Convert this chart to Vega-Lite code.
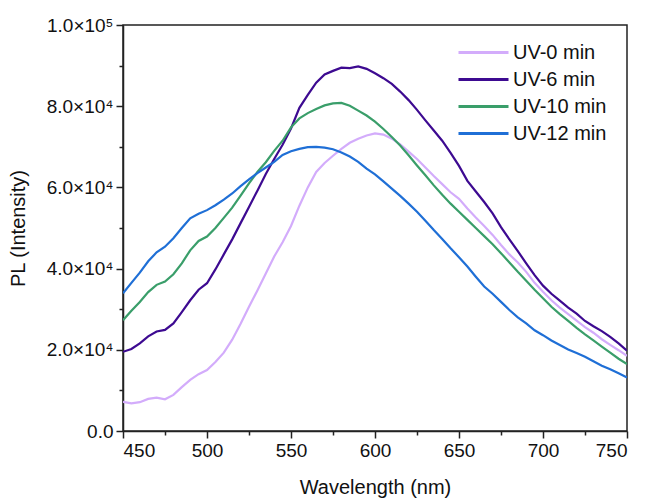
{
  "$schema": "https://vega.github.io/schema/vega-lite/v6.json",
  "autosize": "none",
  "padding": {"left": 123, "top": 25, "right": 20, "bottom": 71},
  "width": 504,
  "height": 406,
  "background": "white",
  "config": {
    "font": "Liberation Sans",
    "view": {"stroke": "#222", "strokeWidth": 1.5},
    "axis": {"labelFont": "Liberation Sans", "titleFont": "Liberation Sans", "labelColor": "#111", "titleColor": "#111", "domainColor": "#222", "tickColor": "#222", "domainWidth": 1.5, "tickWidth": 1.5, "grid": false, "labelFontSize": 19, "titleFontSize": 20, "titleFontWeight": "normal"},
    "legend": {"labelFont": "Liberation Sans", "labelFontSize": 20, "labelColor": "#111"}
  },
  "data": {"values": [
    {"x":450,"UV-0 min":7200,"UV-6 min":19500,"UV-10 min":27300,"UV-12 min":33900},
    {"x":455,"UV-0 min":6800,"UV-6 min":20200,"UV-10 min":29600,"UV-12 min":36500},
    {"x":460,"UV-0 min":7100,"UV-6 min":21600,"UV-10 min":31800,"UV-12 min":39000},
    {"x":465,"UV-0 min":7900,"UV-6 min":23300,"UV-10 min":34200,"UV-12 min":41800},
    {"x":470,"UV-0 min":8200,"UV-6 min":24500,"UV-10 min":36000,"UV-12 min":44000},
    {"x":475,"UV-0 min":7800,"UV-6 min":24900,"UV-10 min":36800,"UV-12 min":45400},
    {"x":480,"UV-0 min":8900,"UV-6 min":26500,"UV-10 min":38600,"UV-12 min":47500},
    {"x":485,"UV-0 min":10800,"UV-6 min":29300,"UV-10 min":41300,"UV-12 min":50000},
    {"x":490,"UV-0 min":12600,"UV-6 min":32200,"UV-10 min":44500,"UV-12 min":52400},
    {"x":495,"UV-0 min":14000,"UV-6 min":34800,"UV-10 min":46800,"UV-12 min":53500},
    {"x":500,"UV-0 min":15000,"UV-6 min":36400,"UV-10 min":47900,"UV-12 min":54400},
    {"x":505,"UV-0 min":17000,"UV-6 min":39800,"UV-10 min":50000,"UV-12 min":55600},
    {"x":510,"UV-0 min":19300,"UV-6 min":43500,"UV-10 min":52500,"UV-12 min":57000},
    {"x":515,"UV-0 min":22500,"UV-6 min":47200,"UV-10 min":55000,"UV-12 min":58500},
    {"x":520,"UV-0 min":26400,"UV-6 min":51200,"UV-10 min":58000,"UV-12 min":60300},
    {"x":525,"UV-0 min":30600,"UV-6 min":55200,"UV-10 min":61000,"UV-12 min":62000},
    {"x":530,"UV-0 min":34600,"UV-6 min":59200,"UV-10 min":63800,"UV-12 min":63500},
    {"x":535,"UV-0 min":38800,"UV-6 min":63300,"UV-10 min":66200,"UV-12 min":64900},
    {"x":540,"UV-0 min":43000,"UV-6 min":67000,"UV-10 min":69000,"UV-12 min":66300},
    {"x":545,"UV-0 min":46500,"UV-6 min":70500,"UV-10 min":71500,"UV-12 min":68000},
    {"x":550,"UV-0 min":50500,"UV-6 min":74500,"UV-10 min":74800,"UV-12 min":68900},
    {"x":555,"UV-0 min":55500,"UV-6 min":79600,"UV-10 min":77000,"UV-12 min":69500},
    {"x":560,"UV-0 min":60000,"UV-6 min":82800,"UV-10 min":78300,"UV-12 min":69900},
    {"x":565,"UV-0 min":63800,"UV-6 min":85800,"UV-10 min":79300,"UV-12 min":70000},
    {"x":570,"UV-0 min":66000,"UV-6 min":87800,"UV-10 min":80200,"UV-12 min":69800},
    {"x":575,"UV-0 min":67800,"UV-6 min":88700,"UV-10 min":80700,"UV-12 min":69400},
    {"x":580,"UV-0 min":69500,"UV-6 min":89500,"UV-10 min":80800,"UV-12 min":68600},
    {"x":585,"UV-0 min":71000,"UV-6 min":89400,"UV-10 min":80100,"UV-12 min":67600},
    {"x":590,"UV-0 min":72000,"UV-6 min":89800,"UV-10 min":78900,"UV-12 min":66300},
    {"x":595,"UV-0 min":72800,"UV-6 min":89200,"UV-10 min":77700,"UV-12 min":64600},
    {"x":600,"UV-0 min":73300,"UV-6 min":88100,"UV-10 min":76200,"UV-12 min":63200},
    {"x":605,"UV-0 min":73000,"UV-6 min":86900,"UV-10 min":74400,"UV-12 min":61500},
    {"x":610,"UV-0 min":72000,"UV-6 min":85500,"UV-10 min":72400,"UV-12 min":59700},
    {"x":615,"UV-0 min":70600,"UV-6 min":83600,"UV-10 min":70300,"UV-12 min":57900},
    {"x":620,"UV-0 min":68800,"UV-6 min":81500,"UV-10 min":67900,"UV-12 min":56000},
    {"x":625,"UV-0 min":67000,"UV-6 min":79100,"UV-10 min":65400,"UV-12 min":54000},
    {"x":630,"UV-0 min":64900,"UV-6 min":76500,"UV-10 min":63000,"UV-12 min":51800},
    {"x":635,"UV-0 min":62800,"UV-6 min":74000,"UV-10 min":60500,"UV-12 min":49500},
    {"x":640,"UV-0 min":60800,"UV-6 min":71500,"UV-10 min":58200,"UV-12 min":47300},
    {"x":645,"UV-0 min":58800,"UV-6 min":68500,"UV-10 min":56000,"UV-12 min":45000},
    {"x":650,"UV-0 min":57200,"UV-6 min":65300,"UV-10 min":54000,"UV-12 min":42800},
    {"x":655,"UV-0 min":54800,"UV-6 min":61600,"UV-10 min":52000,"UV-12 min":40500},
    {"x":660,"UV-0 min":52600,"UV-6 min":59000,"UV-10 min":50000,"UV-12 min":38000},
    {"x":665,"UV-0 min":50500,"UV-6 min":56400,"UV-10 min":48000,"UV-12 min":35600},
    {"x":670,"UV-0 min":48300,"UV-6 min":53600,"UV-10 min":46000,"UV-12 min":33800},
    {"x":675,"UV-0 min":45800,"UV-6 min":50200,"UV-10 min":43800,"UV-12 min":31800},
    {"x":680,"UV-0 min":43500,"UV-6 min":47200,"UV-10 min":41500,"UV-12 min":29800},
    {"x":685,"UV-0 min":41500,"UV-6 min":44300,"UV-10 min":39200,"UV-12 min":28000},
    {"x":690,"UV-0 min":39200,"UV-6 min":41300,"UV-10 min":37000,"UV-12 min":26500},
    {"x":695,"UV-0 min":36500,"UV-6 min":38400,"UV-10 min":34800,"UV-12 min":24800},
    {"x":700,"UV-0 min":34300,"UV-6 min":35800,"UV-10 min":32700,"UV-12 min":23600},
    {"x":705,"UV-0 min":32200,"UV-6 min":33800,"UV-10 min":30600,"UV-12 min":22300},
    {"x":710,"UV-0 min":30400,"UV-6 min":32100,"UV-10 min":28800,"UV-12 min":21200},
    {"x":715,"UV-0 min":28800,"UV-6 min":30400,"UV-10 min":27100,"UV-12 min":20100},
    {"x":720,"UV-0 min":27200,"UV-6 min":28900,"UV-10 min":25400,"UV-12 min":19200},
    {"x":725,"UV-0 min":25600,"UV-6 min":27100,"UV-10 min":23800,"UV-12 min":18300},
    {"x":730,"UV-0 min":24200,"UV-6 min":25800,"UV-10 min":22300,"UV-12 min":17200},
    {"x":735,"UV-0 min":22600,"UV-6 min":24600,"UV-10 min":20800,"UV-12 min":16100},
    {"x":740,"UV-0 min":21200,"UV-6 min":23200,"UV-10 min":19300,"UV-12 min":15200},
    {"x":745,"UV-0 min":19900,"UV-6 min":21600,"UV-10 min":17800,"UV-12 min":14200},
    {"x":750,"UV-0 min":18500,"UV-6 min":19800,"UV-10 min":16500,"UV-12 min":13200}
  ]},
  "transform": [
    {"fold": ["UV-0 min", "UV-6 min", "UV-10 min", "UV-12 min"], "as": ["series", "pl"]}
  ],
  "layer": [
    {
      "mark": {"type": "line", "strokeWidth": 2.2, "clip": true},
      "encoding": {
        "x": {"field": "x", "type": "quantitative", "scale": {"domain": [450, 750], "nice": false},
          "axis": {"title": "Wavelength (nm)", "values": [450, 500, 550, 600, 650, 700, 750], "tickSize": 7, "labelPadding": 3, "titlePadding": 17, "domain": true}},
        "y": {"field": "pl", "type": "quantitative", "scale": {"domain": [0, 100000], "nice": false},
          "axis": {"title": "PL (Intensity)", "values": [0, 20000, 40000, 60000, 80000, 100000], "tickSize": 7, "labelPadding": 3, "titlePadding": 18,
            "labelExpr": "datum.value == 0 ? '0.0' : datum.value == 100000 ? '1.0×10⁵' : format(datum.value / 10000, '.1f') + '×10⁴'"}},
        "color": {"field": "series", "type": "nominal",
          "scale": {"domain": ["UV-0 min", "UV-6 min", "UV-10 min", "UV-12 min"], "range": ["#d3acfb", "#3d0a91", "#3a9e6a", "#1f6fd6"]},
          "legend": {"title": null, "orient": "none", "legendX": 334, "legendY": 16, "symbolType": "M-1,0L4,0", "symbolSize": 400, "symbolStrokeWidth": 3, "symbolFillColor": "transparent", "rowPadding": 5, "labelOffset": 33}}
      }
    },
    {
      "mark": {"type": "line", "opacity": 0},
      "encoding": {
        "x": {"field": "x", "type": "quantitative",
          "axis": {"orient": "bottom", "values": [475, 525, 575, 625, 675, 725], "labels": false, "domain": false, "tickSize": 4, "title": null}},
        "y": {"field": "pl", "type": "quantitative",
          "axis": {"orient": "left", "values": [10000, 30000, 50000, 70000, 90000], "labels": false, "domain": false, "tickSize": 4, "title": null}},
        "detail": {"field": "series"}
      }
    }
  ],
  "resolve": {"axis": {"x": "independent", "y": "independent"}}
}
